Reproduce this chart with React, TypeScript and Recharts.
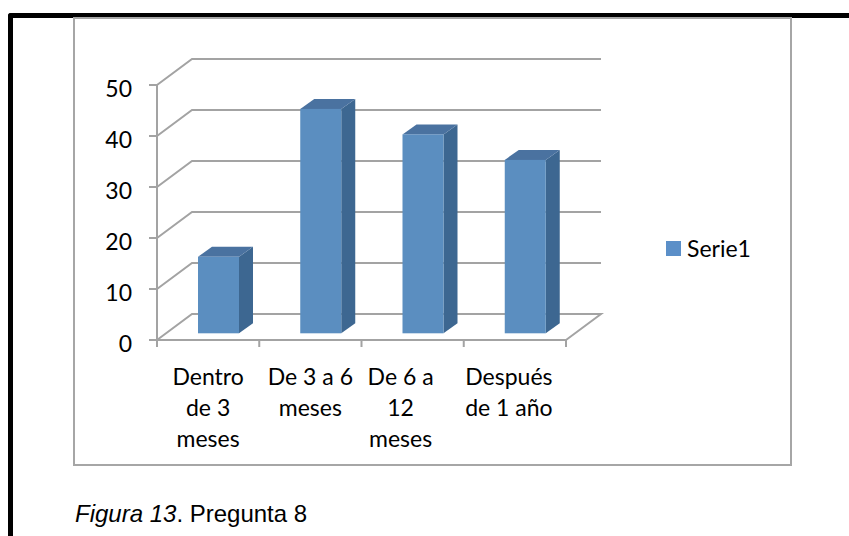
import React from 'react';
import { BarChart, Bar, XAxis, YAxis, CartesianGrid } from 'recharts';

// Pregunta 8 — tiempo
const categories = ['Dentro\nde 3\nmeses', 'De 3 a 6\nmeses', 'De 6 a\n12\nmeses', 'Después\nde 1 año'];
const serie1 = [15, 44, 39, 34];
const yTicks = [0, 10, 20, 30, 40, 50];
const seriesName = 'Serie1';

const data = categories.map((name, i) => ({ name, value: serie1[i] }));

// layout
const W = 849;
const H = 536;
const PLOT_LEFT = 157;
const PLOT_RIGHT = 566;
const PLOT_TOP = 85;
const PLOT_BOTTOM = 340;
const Y_AXIS_W = 60;
const X_AXIS_H = 120;
const BAND = (PLOT_RIGHT - PLOT_LEFT) / categories.length;
const LABEL_SHIFT = [0, 0, -12, -6];

// 3d depth
const DEPTH_X = 35;
const DEPTH_Y = -26;
const BAR_DX = 10;
const BAR_DY = -6.7;
const SIDE_X = 14;
const SIDE_Y = -10;

const GRID = '#a3a3a3';
const FONT = 'Lato, "Open Sans", sans-serif';
const FRONT = '#5b8ec0';
const SIDE = '#3d6791';
const TOP = '#4a72a0';

// eslint-disable-next-line @typescript-eslint/no-explicit-any
function GridLine(p: any) {
  const { x1, y1, x2 } = p;
  const isFloor = Math.abs(y1 - PLOT_BOTTOM) < 0.5;
  let d = `M${x1},${y1} L${x1 + DEPTH_X},${y1 + DEPTH_Y} L${x2 + DEPTH_X},${y1 + DEPTH_Y}`;
  if (isFloor) d += ` L${x2},${y1}`;
  return <path key={p.key ?? `g-${p.index}`} d={d} fill="none" stroke={GRID} strokeWidth={2} />;
}

// eslint-disable-next-line @typescript-eslint/no-explicit-any
function Bar3D(p: any) {
  const { x, y, width, height } = p;
  if (height == null || height <= 0) return null;
  const fx = x + BAR_DX;
  const fy = y + BAR_DY;
  const side = `M${fx + width},${fy} L${fx + width + SIDE_X},${fy + SIDE_Y} L${fx + width + SIDE_X},${fy + height + SIDE_Y} L${fx + width},${fy + height} Z`;
  const top = `M${fx},${fy} L${fx + SIDE_X},${fy + SIDE_Y} L${fx + width + SIDE_X},${fy + SIDE_Y} L${fx + width},${fy} Z`;
  return (
    <g>
      <path d={side} fill={SIDE} />
      <path d={top} fill={TOP} />
      <rect x={fx} y={fy} width={width} height={height} fill={FRONT} />
    </g>
  );
}

// eslint-disable-next-line @typescript-eslint/no-explicit-any
function XTick(p: any) {
  const { x, y, payload } = p;
  const idx = payload.index ?? categories.indexOf(payload.value);
  const lines = String(payload.value).split('\n');
  const left = x - BAND / 2;
  const right = x + BAND / 2;
  const cx = x + (LABEL_SHIFT[idx] ?? 0);
  return (
    <g>
      <line x1={left} y1={y} x2={left} y2={y + 7} stroke={GRID} strokeWidth={2} />
      {idx === categories.length - 1 && (
        <line x1={right} y1={y} x2={right} y2={y + 7} stroke={GRID} strokeWidth={2} />
      )}
      <text textAnchor="middle" fill="#000" fontSize={23} fontFamily={FONT}>
        {lines.map((t, i) => (
          <tspan key={i} x={cx} y={y + 45 + i * 31}>
            {t}
          </tspan>
        ))}
      </text>
    </g>
  );
}

// eslint-disable-next-line @typescript-eslint/no-explicit-any
function YTick(p: any) {
  const { x, y, payload } = p;
  return (
    <text x={x} y={y + 12} textAnchor="end" fill="#000" fontSize={23} fontFamily={FONT}>
      {payload.value}
    </text>
  );
}

export default function App() {
  return (
    <div style={{ position: 'absolute', left: 0, top: 0, width: W, height: H, background: '#fff', overflow: 'hidden' }}>
      {/* page frame */}
      <div
        style={{
          position: 'absolute',
          left: 8,
          top: 12.5,
          width: W + 20,
          height: H + 20,
          borderTop: '5px solid #000',
          borderLeft: '5px solid #000',
          borderTopLeftRadius: 3,
        }}
      />
      {/* chart area box */}
      <div
        style={{
          position: 'absolute',
          left: 73,
          top: 17,
          width: 719,
          height: 449,
          boxSizing: 'border-box',
          border: '2px solid #a6a6a6',
        }}
      />
      <div style={{ position: 'absolute', left: 0, top: 0 }}>
        <BarChart
          width={W}
          height={H}
          data={data}
          margin={{
            top: PLOT_TOP,
            right: W - PLOT_RIGHT,
            bottom: H - PLOT_BOTTOM - X_AXIS_H,
            left: PLOT_LEFT - Y_AXIS_W,
          }}
        >
          <CartesianGrid vertical={false} horizontal={GridLine} />
          <XAxis
            dataKey="name"
            interval={0}
            height={X_AXIS_H}
            tickSize={0}
            tickMargin={0}
            tickLine={false}
            axisLine={{ stroke: GRID, strokeWidth: 2 }}
            tick={XTick}
          />
          <YAxis
            domain={[0, 50]}
            ticks={yTicks}
            width={Y_AXIS_W}
            tickSize={8}
            tickMargin={17}
            tickLine={{ stroke: GRID, strokeWidth: 2 }}
            axisLine={{ stroke: GRID, strokeWidth: 2 }}
            tick={YTick}
          />
          <Bar dataKey="value" name={seriesName} barSize={41} shape={Bar3D} isAnimationActive={false} />
        </BarChart>
      </div>
      {/* legend */}
      <div
        style={{
          position: 'absolute',
          left: 666,
          top: 234,
          display: 'flex',
          alignItems: 'center',
          fontFamily: FONT,
          fontSize: 23,
          color: '#000',
        }}
      >
        <span style={{ display: 'inline-block', width: 15, height: 15, background: '#5b8fc8', marginRight: 6 }} />
        <span>{seriesName}</span>
      </div>
      {/* caption */}
      <div
        style={{
          position: 'absolute',
          left: 75,
          top: 500,
          fontFamily: '"Liberation Sans", Arial, sans-serif',
          fontSize: 24,
          color: '#000',
          whiteSpace: 'nowrap',
        }}
      >
        <i>Figura 13</i>. Pregunta 8
      </div>
    </div>
  );
}
